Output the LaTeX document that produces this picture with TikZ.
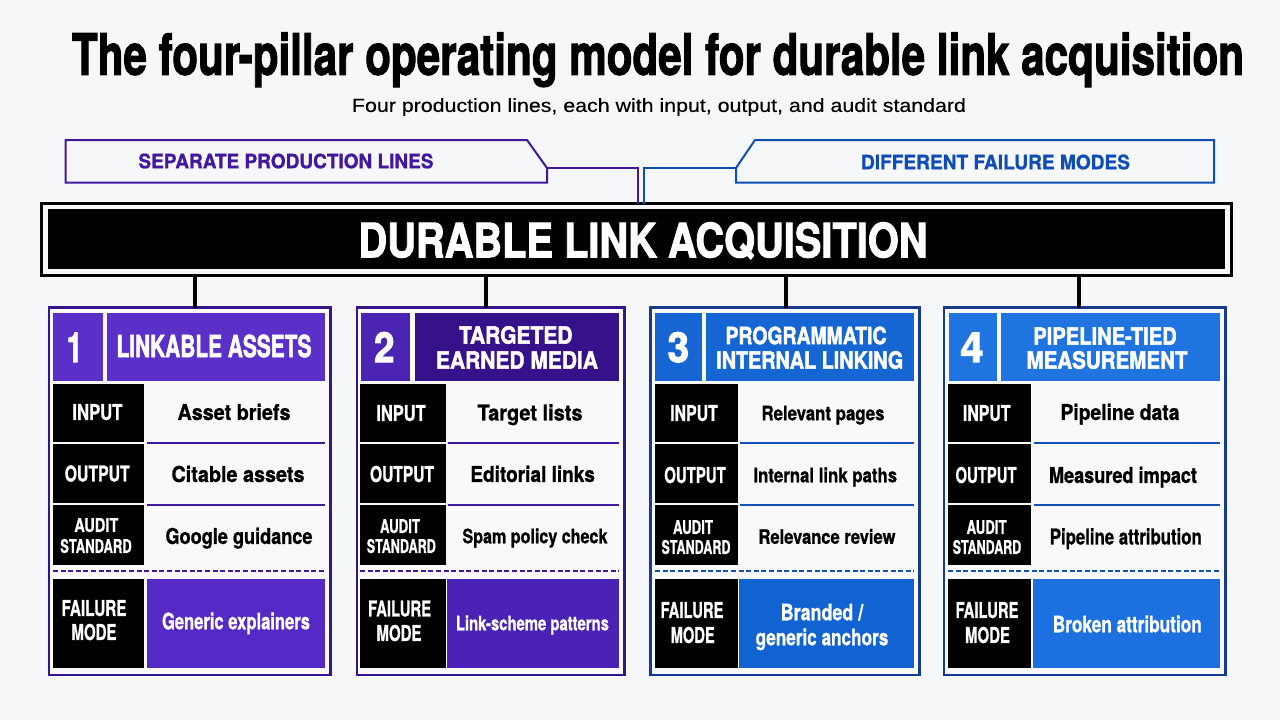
\documentclass[tikz,border=0pt]{standalone}
\usepackage{fontspec}
\usepackage{graphicx}
\setmainfont{TeX Gyre Heros}
\newfontfamily\hfam{TeX Gyre Heros}[BoldFeatures={FakeBold=2.2}]
\newfontfamily\mfam{TeX Gyre Heros}[BoldFeatures={FakeBold=1.0}]
\newfontfamily\subfam{Liberation Sans}[FakeBold=0.25]
\definecolor{pg}{HTML}{F6F7F9}
\definecolor{cardbg}{HTML}{F9F9FB}
\definecolor{pA}{HTML}{5A30C8}
\definecolor{pB}{HTML}{35128A}
\definecolor{pC}{HTML}{4C24B3}
\definecolor{pFa}{HTML}{5529C5}
\definecolor{pFb}{HTML}{4A22B5}
\definecolor{pLine}{HTML}{42189E}
\definecolor{pEdge}{HTML}{34168A}
\definecolor{bA}{HTML}{1566D3}
\definecolor{bB}{HTML}{1F74E0}
\definecolor{bFa}{HTML}{1263D2}
\definecolor{bFb}{HTML}{1C70DF}
\definecolor{bLine}{HTML}{1450B8}
\definecolor{bEdge}{HTML}{173A8C}
\definecolor{tagP}{HTML}{42189E}
\definecolor{tagB}{HTML}{0F4DB5}
\newcount\tnum
\tikzset{
  boxn/.style={inner sep=0pt,outer sep=0pt,anchor=north west},
  txtn/.style={inner sep=0pt,outer sep=0pt,anchor=base},
  stem/.style={draw=black,line width=4pt},
  rulen/.style={line width=2pt},
  dashn/.style={line width=2pt,dash pattern=on 5pt off 2.6pt},
  conn/.style={line width=2pt}
}
% box: name, x1,y1,x2,y2, style
\newcommand{\bx}[6]{\node[boxn,minimum width={(#4-#2)*1pt},minimum height={(#5-#3)*1pt},#6] (#1) at (#2,#3) {};}
% text: [family] x, ycentre of capitals, width, size, colour, text
\newcommand{\tx}[7][\hfam\bfseries]{\global\advance\tnum by 1\relax
  \pgfmathsetmacro{\fs}{#5*0.945}%
  \node[txtn,text=#6] (t\the\tnum) at ({#2},{#3+0.345*#5}) {\resizebox{#4pt}{\height}{#1\fontsize{\fs}{\fs}\selectfont #7}};}
\newcommand{\mx}[6]{\tx[\mfam\bfseries]{#1}{#2}{#3}{#4}{#5}{#6}}
\newcommand{\cardframe}[9]{\bx{c#1}{#2}{307.5}{#3}{675}{draw=#4,line width=2.5pt,fill=cardbg}
  \def\cid{#1}\def\rc{#5}\def\nf{#6}\def\tf{#7}\def\ff{#8}\def\lx{#9}\cardframeB}
\newcommand{\cardframeB}[8]{\bx{n\cid}{#1}{313}{#2}{381}{fill=\nf}
  \bx{h\cid}{#3}{313}{#4}{381}{fill=\tf}
  \bx{li\cid}{\lx}{384}{#5}{442}{fill=black}
  \bx{lo\cid}{\lx}{444}{#5}{503}{fill=black}
  \bx{la\cid}{\lx}{505}{#5}{564.5}{fill=black}
  \bx{lf\cid}{\lx}{579}{#5}{668}{fill=black}
  \bx{di\cid}{#6}{384}{#7}{442.5}{}
  \bx{do\cid}{#6}{444}{#7}{504.5}{}
  \bx{ff\cid}{#8}{579}{#7}{668}{fill=\ff}
  \draw[rulen,draw=\rc] (di\cid.south west) -- (di\cid.south east);
  \draw[rulen,draw=\rc] (do\cid.south west) -- (do\cid.south east);
  \draw[dashn,draw=\rc] (la\cid.south west |- 0,571) -- (ff\cid.south east |- 0,571);
}
\begin{document}
\begin{tikzpicture}[x=1pt,y=-1pt]
\useasboundingbox[fill=pg] (0,0) rectangle (1280,720);

% title
\tx{658}{54}{1172}{60}{black}{The four-pillar operating model for durable link acquisition}
\tx[\subfam]{659}{105}{614}{20}{black}{Four production lines, each with input, output, and audit standard}

% main bar
\bx{bar}{41.5}{203.5}{1231.5}{275.5}{draw=black,line width=3pt,fill=pg}
\bx{barin}{48}{208.5}{1225}{269}{fill=black}
\tx{643}{240}{569}{50}{white}{DURABLE LINK ACQUISITION}

% tags
\coordinate (tl1) at (65.5,140);
\coordinate (tl2) at (527,140);
\coordinate (tl3) at (547,168);
\coordinate (tl4) at (547,182.5);
\coordinate (tl5) at (65.5,182.5);
\coordinate (tlj) at (637.5,168);
\draw[conn,draw=tagP,fill=pg] (tl1) -- (tl2) -- (tl3) -- (tl4) -- (tl5) -- cycle;
\draw[conn,draw=tagP] (tl3) -- (tlj) -- (tlj |- bar.north);
\tx[\mfam\bfseries]{286}{161}{295}{21}{tagP}{SEPARATE PRODUCTION LINES}
\coordinate (tr1) at (755,140);
\coordinate (tr2) at (1214,140);
\coordinate (tr3) at (1214,182.5);
\coordinate (tr4) at (736,182.5);
\coordinate (tr5) at (736,168);
\coordinate (trj) at (644,168);
\draw[conn,draw=tagB,fill=pg] (tr1) -- (tr2) -- (tr3) -- (tr4) -- (tr5) -- cycle;
\draw[conn,draw=tagB] (tr5) -- (trj) -- (trj |- bar.north);
\tx[\mfam\bfseries]{995.5}{162}{269}{21}{tagB}{DIFFERENT FAILURE MODES}

% cards
\cardframe{1}{49}{330.5}{pEdge}{pLine}{pA}{pA}{pFa}{53}{53}{103}{107}{325}{143.5}{146.5}{325}{146.5}
\cardframe{2}{357}{624.5}{pEdge}{pLine}{pC}{pB}{pFb}{360}{360.5}{410}{414.5}{619}{445.5}{448}{619}{447}
\cardframe{3}{650.5}{919.5}{bEdge}{bLine}{bA}{bA}{bFa}{655}{655}{702}{705.5}{913.5}{737.5}{740}{913.5}{739}
\cardframe{4}{944}{1225.5}{bEdge}{bLine}{bB}{bB}{bFb}{948}{948.5}{997}{1001}{1219.5}{1030.5}{1034}{1219.5}{1033}

% stems
\path (c1.north) ++(5.5,0) coordinate (s1);
\path (c2.north) ++(-4.75,0) coordinate (s2);
\path (c3.north) ++(1,0) coordinate (s3);
\path (c4.north) ++(-5.75,0) coordinate (s4);
\foreach \i in {1,2,3,4} {\draw[stem] (bar.south -| s\i) -- (s\i);}

% card 1
\tx{74.5}{347}{15.5}{44}{white}{1}
\tx{214}{346}{195}{32}{white}{LINKABLE ASSETS}
\mx{97.4}{412}{50}{23}{white}{INPUT}
\mx{97.2}{473.5}{65}{23}{white}{OUTPUT}
\mx{96.3}{525}{44}{20}{white}{AUDIT}
\mx{96}{546}{71.5}{20}{white}{STANDARD}
\mx{94}{608}{65}{23}{white}{FAILURE}
\mx{94}{632}{45}{23}{white}{MODE}
\mx{234}{412}{113}{23}{black}{Asset briefs}
\mx{238}{474}{133}{23}{black}{Citable assets}
\mx{239}{536}{147}{23}{black}{Google guidance}
\mx{236}{621}{148}{24}{white}{Generic explainers}

% card 2
\tx{384.3}{347}{20.4}{44}{white}{2}
\tx{515.7}{335}{113.5}{25}{white}{TARGETED}
\tx{517}{360}{162}{25}{white}{EARNED MEDIA}
\mx{401}{413}{49.4}{23}{white}{INPUT}
\mx{402}{474}{64}{23}{white}{OUTPUT}
\mx{400}{526}{40}{20}{white}{AUDIT}
\mx{401.3}{546}{69}{20}{white}{STANDARD}
\mx{399.6}{608.5}{63}{23}{white}{FAILURE}
\mx{399}{633}{45}{23}{white}{MODE}
\mx{530}{412.5}{105}{23}{black}{Target lists}
\mx{532.6}{474}{124.5}{23}{black}{Editorial links}
\mx{535}{536}{145}{21}{black}{Spam policy check}
\mx{532.4}{623}{153}{21}{white}{Link-scheme patterns}

% card 3
\tx{678.4}{347}{21.7}{44}{white}{3}
\tx{806}{335.5}{161}{25}{white}{PROGRAMMATIC}
\tx{809.7}{360}{187}{25}{white}{INTERNAL LINKING}
\mx{694}{413}{47.5}{23}{white}{INPUT}
\mx{695}{475}{61.5}{23}{white}{OUTPUT}
\mx{693}{527}{40}{20}{white}{AUDIT}
\mx{696}{547}{69}{20}{white}{STANDARD}
\mx{692}{610}{63}{23}{white}{FAILURE}
\mx{692.7}{635}{44}{23}{white}{MODE}
\mx{823}{413}{123}{21}{black}{Relevant pages}
\mx{825.3}{475}{143.6}{21}{black}{Internal link paths}
\mx{827}{536.5}{137}{21}{black}{Relevance review}
\mx{822}{612}{82.5}{24}{white}{Branded /}
\mx{822}{637}{132.7}{24}{white}{generic anchors}

% card 4
\tx{972}{347}{23.3}{44}{white}{4}
\tx{1105}{336}{143.5}{25}{white}{PIPELINE-TIED}
\tx{1107}{360}{161}{25}{white}{MEASUREMENT}
\mx{986.7}{413}{47.5}{23}{white}{INPUT}
\mx{986}{475}{61}{23}{white}{OUTPUT}
\mx{986.6}{527}{40}{20}{white}{AUDIT}
\mx{987}{547}{68.5}{20}{white}{STANDARD}
\mx{987}{610}{63}{23}{white}{FAILURE}
\mx{987.5}{635}{45}{23}{white}{MODE}
\mx{1120}{412}{119}{23}{black}{Pipeline data}
\mx{1123}{475}{148}{23}{black}{Measured impact}
\mx{1125.8}{536.5}{152}{23}{black}{Pipeline attribution}
\mx{1127.3}{624}{149}{24}{white}{Broken attribution}
\end{tikzpicture}
\end{document}
